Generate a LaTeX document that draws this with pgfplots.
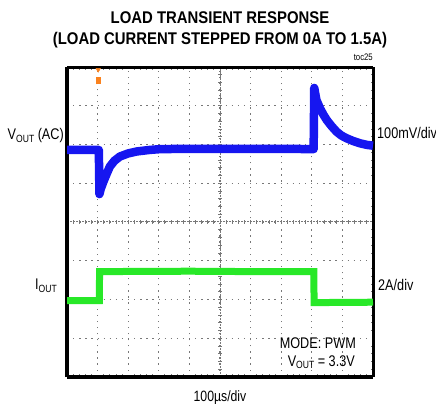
\documentclass[border=0pt]{standalone}
\usepackage{pgfplots}
\pgfplotsset{compat=1.18}
\usepackage{fontspec}
\setmainfont{Liberation Sans}
\newfontfamily\nfont{Liberation Sans}[FakeStretch=0.82]
\newfontfamily\tfont{Liberation Sans}[FakeStretch=0.88]
\newcommand{\sub}[1]{\raisebox{-0.28ex}{\fontsize{10.5}{10.5}\selectfont #1}}
\definecolor{trblue}{RGB}{22,22,240}
\definecolor{trgreen}{RGB}{40,232,40}
\definecolor{trorange}{RGB}{250,130,30}
\definecolor{gridgray}{RGB}{120,120,120}
\pgfplotstableread{
x y
0.00 5.86
1.04 5.86
1.06 4.72
1.10 4.85
1.19 5.04
1.30 5.25
1.40 5.43
1.55 5.58
1.73 5.69
2.00 5.77
2.28 5.82
2.70 5.86
3.04 5.88
4.00 5.89
5.00 5.89
6.00 5.89
7.00 5.89
8.06 5.88
8.08 7.46
8.15 7.15
8.27 6.93
8.38 6.77
8.49 6.63
8.65 6.47
8.81 6.33
8.97 6.23
9.14 6.16
9.35 6.09
9.58 6.03
9.80 5.99
10.00 5.97
}\voutdata
\pgfplotstableread{
x y
0.00 1.97
1.055 1.97
1.065 2.72
4.00 2.73
6.00 2.72
8.065 2.72
8.075 1.92
10.00 1.93
}\ioutdata
\begin{document}
\begin{tikzpicture}
\useasboundingbox (0,0) rectangle (436bp,404bp);
% center cross with ticks
\begin{axis}[
  at={(67bp,27bp)}, anchor=south west,
  width=306bp, height=310bp, scale only axis,
  xmin=-5, xmax=5, ymin=-4, ymax=4,
  axis lines=middle,
  axis line style={-, gridgray, line width=1bp, dash pattern=on 1.5bp off 1.5bp},
  xtick={-5,...,5}, ytick={-4,...,4},
  minor x tick num=4, minor y tick num=4,
  xticklabels={}, yticklabels={},
  tick align=center,
  major tick length=4.5bp, minor tick length=4bp,
  tick style={gridgray, line width=0.9bp},
]
\end{axis}
\begin{axis}[
  at={(67bp,27bp)}, anchor=south west,
  width=306bp, height=310bp, scale only axis,
  xmin=0, xmax=10, ymin=0, ymax=8,
  xtick={0,...,10}, ytick={0,...,8},
  xticklabels={}, yticklabels={},
  minor x tick num=4, minor y tick num=4,
  tick align=inside,
  major tick length=0pt, minor tick length=2.5bp,
  tick style={gridgray, line width=0.9bp},
  grid=major,
  major grid style={gridgray, line width=1.3bp, dash pattern=on 1.3bp off 4.8bp},
  separate axis lines,
  axis line style={black, line width=3bp},
  every outer x axis line/.append style={black, line width=3bp},
  every outer y axis line/.append style={black, line width=3bp},
  clip=false,
]
\addplot[trblue, line width=8.5bp, line join=round] table[x=x,y=y] {\voutdata};
\addplot[trgreen, line width=7bp, line join=miter] table[x=x,y=y] {\ioutdata};
\addplot[trorange, line width=5bp] coordinates {(1.02,7.55)(1.02,7.75)};
\addplot[only marks, mark=triangle*, mark size=2.6bp, trorange, mark options={rotate=180}] coordinates {(1.02,7.93)};
\end{axis}
% texts
\node[anchor=base] at (220bp,380bp) {\tfont\bfseries\fontsize{17}{17}\selectfont LOAD TRANSIENT RESPONSE};
\node[anchor=base] at (220bp,359bp) {\tfont\bfseries\fontsize{17}{17}\selectfont (LOAD CURRENT STEPPED FROM 0A TO 1.5A)};
\node[anchor=base east, inner sep=0pt] at (373bp,343bp) {\nfont\fontsize{9.5}{9.5}\selectfont toc25};
\node[anchor=base east, inner sep=0pt] at (64bp,264bp) {\nfont\fontsize{15.5}{15.5}\selectfont V\sub{OUT} (AC)};
\node[anchor=base west, inner sep=0pt] at (377bp,265bp) {\nfont\fontsize{15.5}{15.5}\selectfont 100mV/div};
\node[anchor=base east, inner sep=0pt] at (57bp,114bp) {\nfont\fontsize{15.5}{15.5}\selectfont I\sub{OUT}};
\node[anchor=base west, inner sep=0pt] at (378bp,113bp) {\nfont\fontsize{15.5}{15.5}\selectfont 2A/div};
\node[anchor=base east, inner sep=0pt] at (356bp,55bp) {\nfont\fontsize{15.5}{15.5}\selectfont MODE: PWM};
\node[anchor=base east, inner sep=0pt] at (355bp,38bp) {\nfont\fontsize{15.5}{15.5}\selectfont V\sub{OUT} = 3.3V};
\node[anchor=base, inner sep=0pt] at (220bp,3bp) {\nfont\fontsize{15}{15}\selectfont 100µs/div};
\end{tikzpicture}
\end{document}
